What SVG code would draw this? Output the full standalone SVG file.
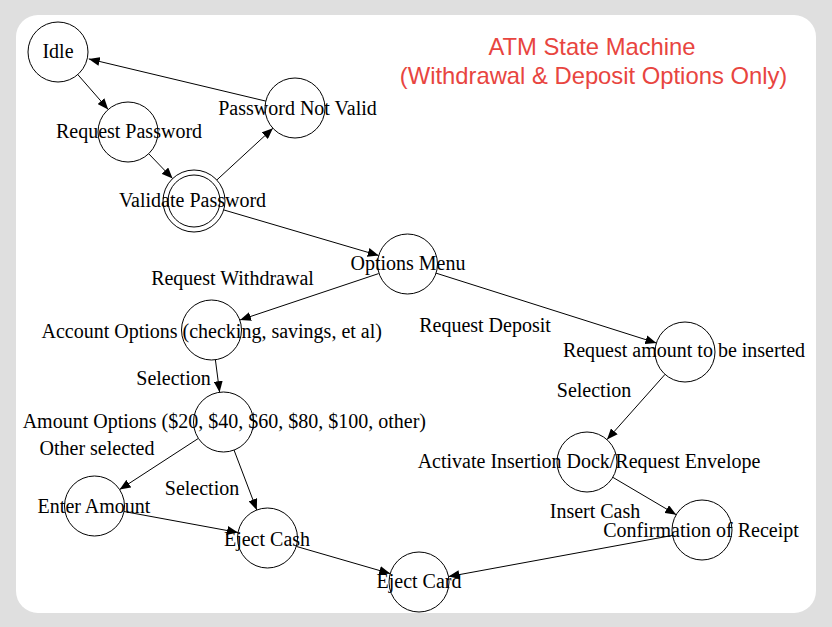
<svg xmlns="http://www.w3.org/2000/svg" width="832" height="627" viewBox="0 0 832 627">
<defs>
<marker id="arr" markerWidth="11" markerHeight="9" refX="11" refY="4.5" orient="auto" markerUnits="userSpaceOnUse">
<path d="M0,0 L11,4.5 L0,9 z" fill="#000"/>
</marker>
<style>
.st{fill:#fff;stroke:#000;stroke-width:1}
.lb{font-family:"Liberation Serif","Times New Roman",serif;font-size:20px;fill:#000;text-anchor:middle}
.ttl{font-family:"Liberation Sans",Arial,sans-serif;font-size:23.8px;fill:#e8453f;text-anchor:middle}
.ed line{stroke:#000;stroke-width:1;marker-end:url(#arr)}
</style>
</defs>
<rect x="0" y="0" width="832" height="627" fill="#dfdfdf"/>
<rect x="16" y="15" width="800" height="598" rx="22" ry="22" fill="#fff"/>
<g id="title">
<text class="ttl" x="592" y="55">ATM State Machine</text>
<text class="ttl" x="593.5" y="84">(Withdrawal &amp; Deposit Options Only)</text>
</g>
<g id="connectors" class="ed">
<line x1="77.8" y1="74.6" x2="108.2" y2="109.4"/>
<line x1="148.7" y1="153.7" x2="172.6" y2="178.6"/>
<line x1="216.8" y1="180" x2="272.9" y2="128.3"/>
<line x1="265.8" y1="101.1" x2="88.8" y2="58.9"/>
<line x1="224" y1="210" x2="378.7" y2="255.5"/>
<line x1="378.6" y1="273.6" x2="240" y2="320"/>
<line x1="435.6" y1="273" x2="656.4" y2="343"/>
<line x1="215.4" y1="359.8" x2="219.6" y2="392.2"/>
<line x1="198.4" y1="438.4" x2="119.6" y2="489.6"/>
<line x1="234" y1="450" x2="256.8" y2="510"/>
<line x1="124" y1="511.5" x2="238" y2="532.5"/>
<line x1="296.3" y1="546.4" x2="390.2" y2="573.6"/>
<line x1="665" y1="374.4" x2="607" y2="439.6"/>
<line x1="612.8" y1="477.3" x2="676.2" y2="514.7"/>
<line x1="672.5" y1="535.4" x2="448.5" y2="576.6"/>
</g>
<g id="edge-labels">
<text class="lb" x="232.5" y="285">Request Withdrawal</text>
<text class="lb" x="485" y="332">Request Deposit</text>
<text class="lb" x="173.5" y="385">Selection</text>
<text class="lb" x="97" y="455">Other selected</text>
<text class="lb" x="202" y="495">Selection</text>
<text class="lb" x="594" y="397">Selection</text>
<text class="lb" x="595" y="517.5">Insert Cash</text>
</g>
<g id="idle"><circle class="st" cx="58" cy="52" r="30"/><text class="lb" x="58" y="58">Idle</text></g>
<g id="request-password"><circle class="st" cx="128" cy="132" r="30"/><text class="lb" x="129" y="138">Request Password</text></g>
<g id="password-not-valid"><circle class="st" cx="295" cy="108" r="30"/><text class="lb" x="297.5" y="115">Password Not Valid</text></g>
<g id="validate-password"><circle class="st" cx="194" cy="201" r="31"/><circle class="st" cx="194" cy="201" r="26"/><text class="lb" x="192.5" y="207">Validate Password</text></g>
<g id="options-menu"><circle class="st" cx="407.5" cy="264" r="30"/><text class="lb" x="408" y="270">Options Menu</text></g>
<g id="account-options"><circle class="st" cx="211.5" cy="330" r="30"/><text class="lb" x="211.7" y="338">Account Options (checking, savings, et al)</text></g>
<g id="amount-options"><circle class="st" cx="223.5" cy="422" r="30"/><text class="lb" x="224.3" y="428">Amount Options ($20, $40, $60, $80, $100, other)</text></g>
<g id="enter-amount"><circle class="st" cx="94.5" cy="506" r="30"/><text class="lb" x="94" y="513">Enter Amount</text></g>
<g id="eject-cash"><circle class="st" cx="267.5" cy="538" r="30"/><text class="lb" x="267" y="546">Eject Cash</text></g>
<g id="eject-card"><circle class="st" cx="419" cy="582" r="30"/><text class="lb" x="419" y="588">Eject Card</text></g>
<g id="request-amount"><circle class="st" cx="685" cy="352" r="30"/><text class="lb" x="684" y="357">Request amount to be inserted</text></g>
<g id="activate-dock"><circle class="st" cx="587" cy="462" r="30"/><text class="lb" x="589" y="468">Activate Insertion Dock/Request Envelope</text></g>
<g id="confirmation"><circle class="st" cx="702" cy="530" r="30"/><text class="lb" x="701" y="537">Confirmation of Receipt</text></g>
</svg>
